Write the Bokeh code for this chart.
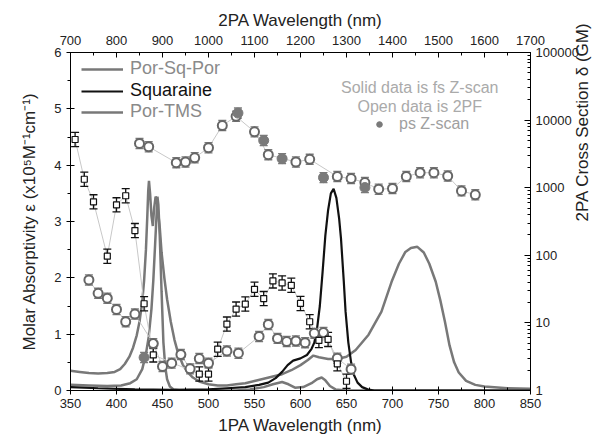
import numpy as np
from bokeh.plotting import figure
from bokeh.models import (Range1d, LinearAxis, LogAxis, LogScale, SingleIntervalTicker, LogTicker,
                          NumeralTickFormatter, Legend, LegendItem, Label)
from bokeh.embed import file_html
from bokeh.resources import INLINE

# ---------------- 1PA absorption spectra (x1e5 M^-1 cm^-1) ----------------
porsqpor_wl = [350, 360, 370, 380, 390, 398, 404, 409, 414, 418, 422, 425, 428, 430, 432, 433.5, 434.5,
               435.3, 436.5, 438, 439.5, 441, 442.5, 443.5, 445, 447, 449, 452, 455, 459, 463, 467, 472,
               477, 483, 490, 500, 510, 520, 530, 540, 550, 560, 570, 580, 590, 600, 608, 614, 620, 630,
               640, 650, 660, 674, 688, 699, 707, 714, 720, 727, 734, 740, 747, 752, 757, 762, 767, 772,
               780, 790, 800, 825, 850]
porsqpor_eps = [0.35, 0.33, 0.31, 0.30, 0.31, 0.33, 0.38, 0.47, 0.60, 0.76, 0.98, 1.22, 1.58, 1.95, 2.5, 3.1,
                3.55, 3.72, 3.5, 3.1, 2.92, 3.25, 3.44, 3.42, 3.2, 2.9, 2.45, 2.0, 1.62, 1.22, 0.9, 0.66,
                0.46, 0.33, 0.23, 0.16, 0.11, 0.09, 0.09, 0.11, 0.13, 0.17, 0.21, 0.25, 0.29, 0.36, 0.45,
                0.54, 0.62, 0.59, 0.56, 0.56, 0.6, 0.72, 0.99, 1.4, 1.93, 2.25, 2.46, 2.53, 2.55, 2.45,
                2.25, 1.93, 1.6, 1.22, 0.8, 0.5, 0.32, 0.17, 0.1, 0.07, 0.04, 0.03]

squaraine_wl = [350, 380, 420, 460, 500, 520, 540, 555, 565, 573, 580, 586, 592, 600, 607, 612, 615, 618,
                621, 624, 627, 630, 633, 636, 639, 642, 644, 647, 649, 652, 655, 658, 662, 667, 673, 680, 850]
squaraine_eps = [0.06, 0.04, 0.02, 0.01, 0.02, 0.04, 0.06, 0.1, 0.14, 0.22, 0.33, 0.45, 0.53, 0.57, 0.63,
                 0.74, 0.85, 1.1, 1.5, 2.1, 2.75, 3.2, 3.5, 3.58, 3.42, 3.05, 2.7, 1.95, 1.4, 0.85, 0.5,
                 0.28, 0.14, 0.06, 0.02, 0.0, 0.0]

portms_wl = [350, 370, 390, 405, 415, 422, 428, 432, 435, 438, 440, 442, 443.5, 444.5, 445.5, 447, 449,
             451, 453, 455, 458, 462, 470, 530, 545, 560, 570, 580, 587, 594, 603, 612, 618, 623, 627,
             632, 638, 650, 850]
portms_eps = [0.10, 0.09, 0.08, 0.09, 0.13, 0.2, 0.38, 0.65, 0.95, 1.45, 1.95, 2.6, 3.1, 3.44, 3.3, 2.75,
              1.75, 0.85, 0.42, 0.2, 0.07, 0.02, 0.0, 0.0, 0.02, 0.06, 0.11, 0.15, 0.11, 0.05, 0.06, 0.13,
              0.2, 0.23, 0.18, 0.08, 0.02, 0.0, 0.0]

# ---------------- 2PA cross sections (GM) vs 2PA wavelength (nm) ----------------
sq2pa_wl = [710, 730, 750, 780, 800, 820, 840, 860, 880, 980, 1000, 1020, 1040, 1060, 1080, 1100, 1120,
            1140, 1160, 1180, 1200, 1220, 1240, 1260, 1280, 1300]
sq2pa_gm = [5160, 1333, 618, 97, 558, 760, 232, 19.2, 3.36, 1.75, 1.75, 4.08, 9.6, 16, 19, 31.4, 22.9,
            41.8, 39, 36, 19.4, 10.4, 5.5, 5.7, 2.48, 1.37]

psp2pa_wl = [850, 870, 930, 950, 970, 1000, 1030, 1060, 1100, 1130, 1190, 1220, 1280, 1310, 1340, 1370,
             1400, 1430, 1460, 1490, 1520, 1550, 1580]
psp2pa_gm = [4510, 4035, 2345, 2400, 2770, 3900, 8300, 11370, 6700, 3077, 2400, 2630, 1462, 1365, 1190,
             950, 973, 1462, 1665, 1665, 1490, 897, 785]

tms2pa_wl = [740, 760, 780, 800, 820, 840, 880, 900, 920, 940, 960, 980, 1000, 1040, 1065, 1110, 1130,
             1150, 1170, 1190, 1210, 1230, 1250, 1280, 1310]
tms2pa_gm = [43.2, 27.4, 23.2, 15.8, 10.4, 13.5, 4.94, 2.27, 2.54, 3.4, 2.09, 2.97, 2.54, 3.85, 3.56, 6.3,
             9.5, 5.9, 5.3, 5.4, 5.1, 7.0, 7.2, 3.0, 2.07]

ps_wl = [860, 1064, 1120, 1160, 1250, 1340]
ps_gm = [3.08, 12700, 4990, 2690, 1410, 1005]

err_dec_sq = 0.105    # error bar half-length (decades)
err_dec_circ = 0.075

FONT = "Liberation Sans"
GRAY = "#787878"

p = figure(width=608, height=437, x_range=Range1d(350, 850), y_range=Range1d(0, 6),
           output_backend="svg", toolbar_location=None,
           min_border_left=70, min_border_right=78, min_border_top=52, min_border_bottom=44)
p.outline_line_color = None
p.xgrid.visible = False
p.ygrid.visible = False
p.background_fill_color = "white"
p.border_fill_color = "white"

p.extra_x_ranges = {"top": Range1d(700, 1700)}
p.extra_y_ranges = {"log": Range1d(1, 100000)}
p.extra_y_scales = {"log": LogScale()}


def style_axis(ax):
    ax.axis_line_color = "black"
    ax.major_tick_line_color = "black"
    ax.minor_tick_line_color = "black"
    ax.major_label_text_font = FONT
    ax.major_label_text_font_size = "13px"
    ax.major_label_text_color = "#222222"
    ax.axis_label_text_font = FONT
    ax.axis_label_text_font_size = "17px"
    ax.axis_label_text_font_style = "normal"
    ax.axis_label_text_color = "#222222"


xb = p.xaxis[0]
xb.ticker = SingleIntervalTicker(interval=50, num_minor_ticks=2)
xb.axis_label = "1PA Wavelength (nm)"
style_axis(xb)
xb.major_tick_in = 4
xb.major_tick_out = 4
xb.minor_tick_in = 3
xb.minor_tick_out = 0
xb.major_label_standoff = 4
xb.axis_label_standoff = 5

yl = p.yaxis[0]
yl.ticker = SingleIntervalTicker(interval=1, num_minor_ticks=2)
yl.axis_label = "Molar Absorptivity ε (x10⁵M⁻¹cm⁻¹)"
style_axis(yl)
yl.major_tick_in = 4
yl.major_tick_out = 4
yl.minor_tick_in = 0
yl.minor_tick_out = 3
yl.major_label_standoff = 5
yl.axis_label_standoff = 12

xt = LinearAxis(x_range_name="top", axis_label="2PA Wavelength (nm)",
                ticker=SingleIntervalTicker(interval=100, num_minor_ticks=2))
style_axis(xt)
xt.major_tick_in = 5
xt.major_tick_out = 0
xt.minor_tick_in = 3
xt.minor_tick_out = 0
xt.major_label_standoff = 8
xt.axis_label_standoff = 3
p.add_layout(xt, "above")

yr = LogAxis(y_range_name="log", ticker=LogTicker(num_minor_ticks=10),
             formatter=NumeralTickFormatter(format="0"), axis_label="2PA Cross Section δ (GM)")
style_axis(yr)
yr.major_tick_in = 6
yr.major_tick_out = 0
yr.minor_tick_in = 3
yr.minor_tick_out = 0
yr.major_label_standoff = 5
yr.axis_label_standoff = 1
try:
    yr.axis_label_orientation = float(np.pi / 2)
except Exception:
    pass
p.add_layout(yr, "right")

# ---------------- absorption curves ----------------
r_psp = p.line(porsqpor_wl, porsqpor_eps, line_color=GRAY, line_width=2.5)
r_tms = p.line(portms_wl, portms_eps, line_color=GRAY, line_width=2.5)
r_sq = p.line(squaraine_wl, squaraine_eps, line_color="#111111", line_width=2.2)

# ---------------- 2PA data ----------------
LINEC = "#c8c8c8"
for wl, gm in [(sq2pa_wl, sq2pa_gm), (psp2pa_wl, psp2pa_gm), (tms2pa_wl, tms2pa_gm)]:
    p.line(wl, gm, x_range_name="top", y_range_name="log", line_color=LINEC, line_width=1)


def errbars(wl, gm, dec, color, cap):
    gm = np.asarray(gm, dtype=float)
    hi = gm * 10 ** dec
    lo = gm / 10 ** dec
    p.segment(x0=wl, y0=lo, x1=wl, y1=hi, x_range_name="top", y_range_name="log",
              line_color=color, line_width=1.3)
    p.scatter(wl, hi, marker="dash", size=cap, x_range_name="top", y_range_name="log",
              line_color=color, line_width=1.3)
    p.scatter(wl, lo, marker="dash", size=cap, x_range_name="top", y_range_name="log",
              line_color=color, line_width=1.3)


errbars(psp2pa_wl, psp2pa_gm, err_dec_circ, "#7a7a7a", 8)
errbars(tms2pa_wl, tms2pa_gm, err_dec_circ, "#7a7a7a", 8)
errbars(ps_wl, ps_gm, err_dec_circ, "#7a7a7a", 8)
errbars(sq2pa_wl, sq2pa_gm, err_dec_sq, "#111111", 8)

p.scatter(psp2pa_wl, psp2pa_gm, marker="circle", size=9, x_range_name="top", y_range_name="log",
          line_color="#666666", fill_color="white", line_width=2)
p.scatter(tms2pa_wl, tms2pa_gm, marker="circle", size=9, x_range_name="top", y_range_name="log",
          line_color="#666666", fill_color="white", line_width=2)
r_ps = p.scatter(ps_wl, ps_gm, marker="circle", size=10, x_range_name="top", y_range_name="log",
                 line_color="#7a7a7a", fill_color="#7a7a7a")
p.scatter(sq2pa_wl, sq2pa_gm, marker="square", size=6, x_range_name="top", y_range_name="log",
          line_color="#111111", fill_color="white", line_width=1.2)


# ---------------- legends ----------------
def one_legend(label, rend, color, loc, gw, standoff, fsize):
    lg = Legend(items=[LegendItem(label=label, renderers=[rend])], location=loc,
                padding=0, margin=0, spacing=0, glyph_width=gw, glyph_height=20,
                label_height=20, label_standoff=standoff, label_text_font=FONT,
                label_text_font_size=fsize, label_text_color=color,
                border_line_color=None, background_fill_alpha=0)
    p.add_layout(lg)


one_legend("Por-Sq-Por", r_psp, "#8a8a8a", (11, 311), 42, 7, "18px")
one_legend("Squaraine", r_sq, "#111111", (11, 289), 42, 7, "18px")
one_legend("Por-TMS", r_tms, "#8a8a8a", (11, 268), 42, 7, "18px")
one_legend("ps Z-scan", r_ps, "#a0a0a0", (302, 256), 14, 13, "16px")

for txt, yv in [("Solid data is fs Z-scan", 5.37), ("Open data is 2PF", 5.05)]:
    p.add_layout(Label(x=729.6, y=yv, text=txt, text_align="center", text_baseline="middle",
                       text_font=FONT, text_font_size="16px", text_color="#aaaaaa"))

open("out.html", "w").write(file_html(p, INLINE))
